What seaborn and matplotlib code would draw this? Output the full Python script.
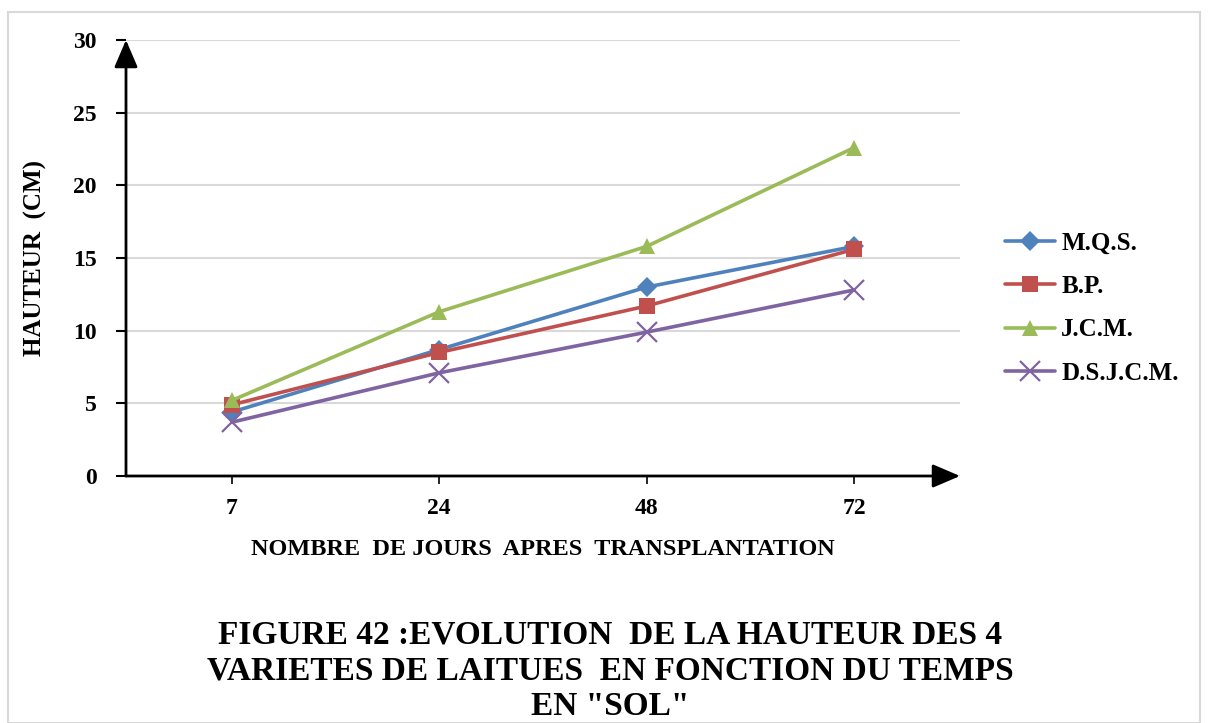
import matplotlib
matplotlib.use("Agg")
import matplotlib.pyplot as plt
import matplotlib.patches as mpatches
import seaborn as sns
import pandas as pd

days = ["7", "24", "48", "72"]
series_names = ["M.Q.S.", "B.P.", "J.C.M.", "D.S.J.C.M."]
mqs = [4.4, 8.7, 13.0, 15.8]
bp = [4.9, 8.5, 11.7, 15.6]
jcm = [5.2, 11.3, 15.8, 22.6]
dsjcm = [3.7, 7.1, 9.9, 12.8]
y_ticks = [0, 5, 10, 15, 20, 25, 30]

colors = ["#4F81BD", "#C0504D", "#9BBB59", "#8064A2"]
markers = ["D", "s", "^", "x"]

sns.set_theme(style="white")
plt.rcParams["font.family"] = ["Liberation Serif", "DejaVu Serif"]
plt.rcParams["font.weight"] = "bold"
for k in ["text.color", "axes.labelcolor", "xtick.color", "ytick.color"]:
    plt.rcParams[k] = "black"

fig = plt.figure(figsize=(12.08, 7.23), dpi=100)
ax = fig.add_axes([126/1208, 1-476/723, (960-126)/1208, (476-40)/723])

for name, vals, c, m in zip(series_names, [mqs, bp, jcm, dsjcm], colors, markers):
    df = pd.DataFrame({"pos": list(range(len(days))), "value": vals})
    if m == "x":
        sns.lineplot(data=df, x="pos", y="value", color=c, marker=m, markersize=14,
                     markeredgewidth=1.6, markeredgecolor=c, linewidth=2.6, ax=ax, label=name)
    else:
        ms = 12 if m == "^" else (10 if m == "D" else 11)
        sns.lineplot(data=df, x="pos", y="value", color=c, marker=m, markersize=ms,
                     markeredgewidth=0, linewidth=2.6, ax=ax, label=name)

ax.set_xlim(-0.51, 3.51)
ax.set_ylim(0, 30)
ax.set_yticks(y_ticks)
ax.set_yticklabels([str(t) for t in y_ticks], fontsize=17, fontweight="bold")
ax.set_xticks(range(len(days)))
ax.set_xticklabels(days, fontsize=17, fontweight="bold")
ax.yaxis.grid(True, color="#D9D9D9", linewidth=1.5)
ax.xaxis.grid(False)
ax.set_axisbelow(True)
for s in ["top", "right", "left", "bottom"]:
    ax.spines[s].set_visible(False)
ax.tick_params(axis="y", which="both", left=True, length=7, width=1.5, color="black", pad=14)
ax.tick_params(axis="x", which="both", bottom=True, length=6, width=1.2, color="black", pad=10)

# axis arrows
ax.annotate("", xy=(0, 1.0), xytext=(0, 0), xycoords="axes fraction",
            arrowprops=dict(arrowstyle="-|>,head_length=1.4,head_width=0.6", lw=2, color="black",
                            shrinkA=0, shrinkB=0))
ax.annotate("", xy=(1.0, 0), xytext=(0, 0), xycoords="axes fraction",
            arrowprops=dict(arrowstyle="-|>,head_length=1.4,head_width=0.6", lw=2, color="black",
                            shrinkA=0, shrinkB=0))

ax.set_xlabel("NOMBRE  DE JOURS  APRES  TRANSPLANTATION", fontsize=17.5, fontweight="bold", labelpad=14)
ax.set_ylabel("HAUTEUR  (CM)", fontsize=18, fontweight="bold", labelpad=19)

handles, labels = ax.get_legend_handles_labels()
leg = ax.legend(handles, labels, loc="center left", bbox_to_anchor=(1.054, 0.385),
                frameon=False, handlelength=2.0, handletextpad=0.25, labelspacing=0.82,
                borderpad=0, borderaxespad=0,
                prop={"weight": "bold", "size": 18, "family": "Liberation Serif"})

fig.patches.append(mpatches.Rectangle((8/1208, 0), (1200-8)/1208, 1-12/723,
                                      transform=fig.transFigure, fill=False,
                                      edgecolor="#D9D9D9", linewidth=1.5))

fig.text(0.505, 1-671/723,
         "FIGURE 42 :EVOLUTION  DE LA HAUTEUR DES 4\nVARIETES DE LAITUES  EN FONCTION DU TEMPS\nEN \"SOL\"",
         ha="center", va="center", fontsize=24, fontweight="bold", linespacing=1.2)

fig.savefig("out.png", dpi=100)
